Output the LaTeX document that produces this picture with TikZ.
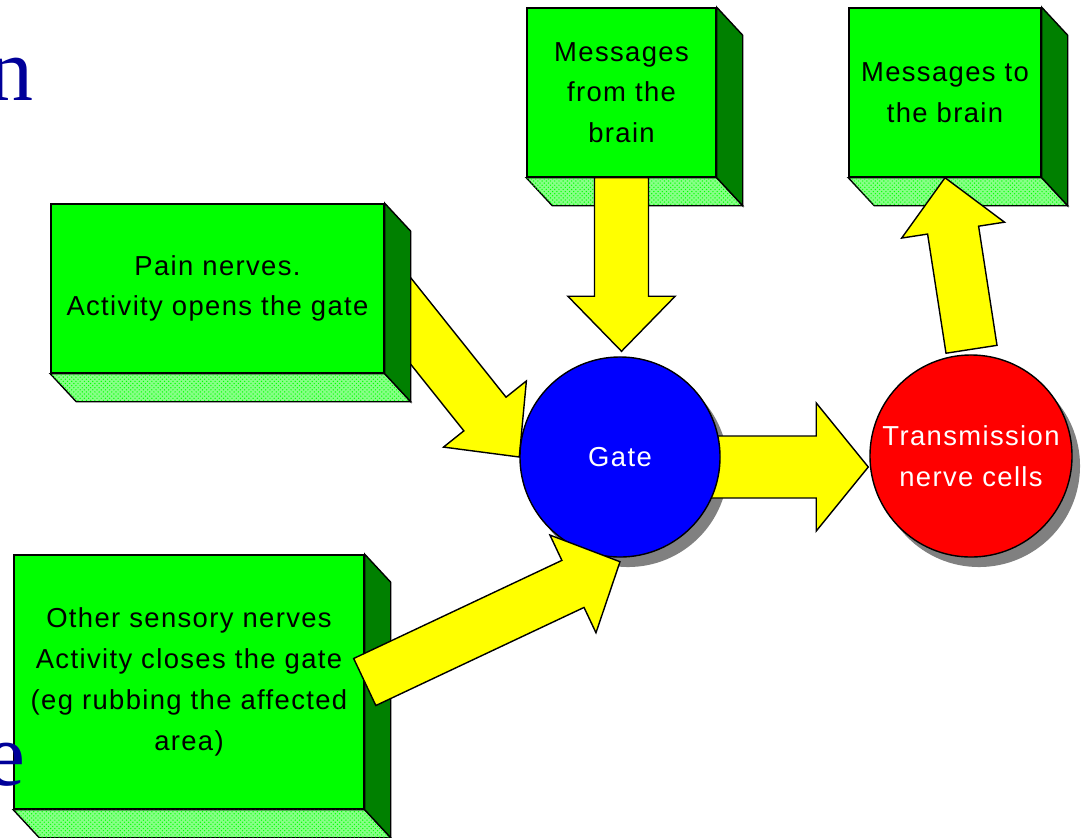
\documentclass[tikz,border=0pt]{standalone}
\usepackage{fontspec}
\setmainfont{Liberation Serif}
\newfontfamily\boxfont[LetterSpace=5]{Liberation Sans}
\usetikzlibrary{calc,patterns,backgrounds}

\definecolor{boxgreen}{RGB}{0,255,0}
\definecolor{sidegreen}{RGB}{0,128,0}
\definecolor{hatchgreen}{RGB}{135,255,135}
\definecolor{gateblue}{RGB}{0,0,255}
\definecolor{cellred}{RGB}{255,0,0}
\definecolor{fatyellow}{RGB}{255,255,0}
\definecolor{titleblue}{RGB}{0,0,153}

\tikzset{
	box/.style={draw=black, line width=1pt, fill=boxgreen, inner sep=0pt, align=center, font=\boxfont\fontsize{19.5pt}{29pt}\selectfont},
	side/.style={draw=black, line width=1pt, fill=sidegreen},
	hatch/.style={draw=black, line width=1pt, fill=hatchgreen, postaction={pattern=crosshatch dots, pattern color=boxgreen}},
	cell/.style={circle, draw=black, line width=1pt, inner sep=0pt, align=center, text=white, font=\boxfont\fontsize{19.5pt}{29pt}\selectfont},
	fat/.style={draw=black, line width=1pt, fill=fatyellow, line join=miter},
	slidetitle/.style={text=titleblue, inner sep=0pt, font=\fontsize{64pt}{70pt}\selectfont},
}

% side and bottom of a green box
\newcommand{\boxdepth}[1]{%
	\draw[hatch] (#1.south west) -- ++(26,28) -- ($(#1.south east)+(26,28)$) -- (#1.south east) -- cycle;
	\draw[side] (#1.north east) -- ++(26,28) -- ($(#1.south east)+(26,28)$) -- (#1.south east) -- cycle;
}

% block arrow: from, to, half shaft, half head, head length
\newcommand{\fatarrow}[5]{%
	\coordinate (fa) at ($(#2)!#5!(#1)$);
	\draw[fat] ($(#1)!#3!90:(#2)$) -- ($(fa)!#3!90:(#2)$) -- ($(fa)!#4!90:(#2)$) -- (#2) -- ($(fa)!#4!-90:(#2)$) -- ($(fa)!#3!-90:(#2)$) -- ($(#1)!#3!-90:(#2)$) -- cycle;
}

\begin{document}
\begin{tikzpicture}[x=0.025cm, y=-0.025cm]
	\useasboundingbox (0,0) rectangle (1084,837);

	% boxes
	\node (msgfrom)[box, minimum width=4.725cm, minimum height=4.225cm] at (621.5,92.5) {Messages\\from the\\brain};
	\boxdepth{msgfrom}
	\node (msgto)[box, minimum width=4.8cm, minimum height=4.225cm] at (945,92.5) {Messages to\\the brain};
	\boxdepth{msgto}
	\node (pain)[box, minimum width=8.325cm, minimum height=4.225cm] at (217.5,288.5) {Pain nerves.\\Activity opens the gate};
	\boxdepth{pain}
	\node (other)[box, minimum width=8.75cm, minimum height=6.35cm] at (189,682) {Other sensory nerves\\Activity closes the gate\\(eg rubbing the affected\\area)};
	\boxdepth{other}

	% cells
	\node (gate)[cell, fill=gateblue, minimum size=5cm] at (620,457) {Gate};
	\node (trans)[cell, fill=cellred, minimum size=5.05cm] at (971,456) {Transmission\\nerve cells};

	\coordinate (gateR) at ($(gate.east)+(-40,10)$);
	\coordinate (gatetop) at ($(gate.north)+(1.5,-5)$);
	\coordinate (gatefoot) at ($(gate.south)+(0,4)$);
	\coordinate (transL) at ($(trans.west)+(-1,11)$);
	\coordinate (upfoot) at ($(trans.north)+(0.5,-5)$);

	\begin{scope}[on background layer]
		\fill[white] (0,0) rectangle (1084,837);
		\fill[gray] ($(gate.center)+(8,10)$) circle[radius=2.5cm];
		\fill[gray] ($(trans.center)+(8,10)$) circle[radius=2.525cm];
		\fatarrow{gateR}{transL}{0.775cm}{1.6cm}{1.3cm}
		\fatarrow{pain.east}{gate.west}{0.675cm}{1.325cm}{1.375cm}
	\end{scope}

	\fatarrow{msgfrom.south}{gatetop}{0.675cm}{1.34cm}{1.375cm}
	\fatarrow{upfoot}{msgto.south}{0.645cm}{1.3cm}{1.325cm}
	\fatarrow{other.east}{gatefoot}{0.65cm}{1.35cm}{1.3cm}

	% title letters cut by the slide edge
	\node (titlen)[slidetitle, anchor=base east] at (34,100) {n};
	\node (titlee)[slidetitle, anchor=base east] at (26,785) {e};
\end{tikzpicture}
\end{document}
